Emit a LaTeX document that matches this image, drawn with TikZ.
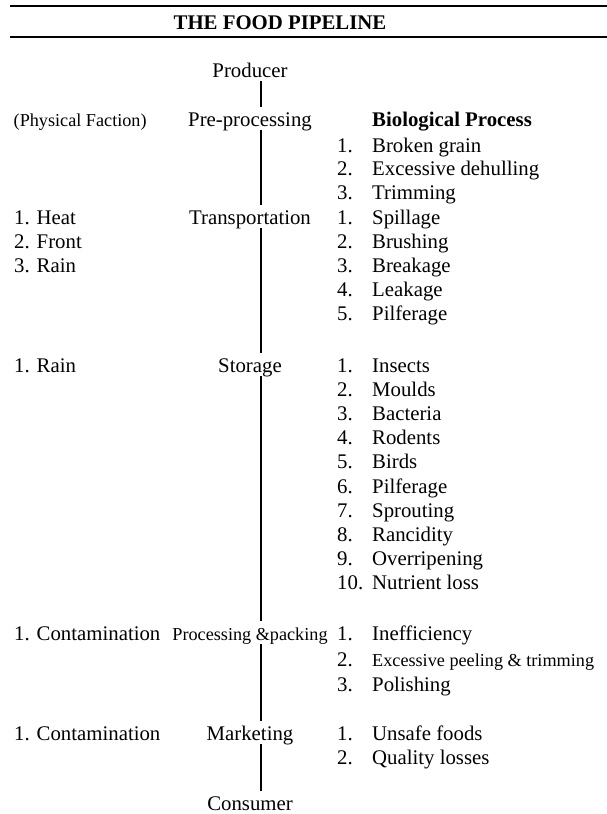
\documentclass[tikz,border=0pt]{standalone}
\usepackage{fontspec}
\setmainfont{Liberation Serif}
\newcommand{\lnum}[2]{\makebox[35pt][l]{#1}#2}
\newcommand{\smallsz}{\fontsize{18.2}{21}\selectfont}

\begin{document}
\begin{tikzpicture}[x=1pt,y=-1pt,font=\fontsize{20.8}{24}\selectfont,
  stage/.style={anchor=base,inner xsep=0pt,inner ysep=4pt,text height=15pt,text depth=0pt},
  cause/.style={anchor=base west,inner sep=0pt},
  loss/.style={anchor=base west,inner sep=0pt},
  rule/.style={line width=1.8pt},
  pipe/.style={line width=1.3pt}]
\useasboundingbox (0,0) rectangle (607,814);
\coordinate (spine) at (261,0);

\draw[rule] (10,6) -- (607,6);
\node[anchor=base,font=\fontsize{20.8}{24}\selectfont\bfseries] (title) at (280,29.5) {THE FOOD PIPELINE};
\draw[rule] (10,37) -- (607,37);

% the stages
\node[stage] (producer) at (250,77) {Producer};
\node[stage] (pre) at (250,126) {Pre-processing};
\node[stage] (transport) at (250,224) {Transportation};
\node[stage] (storage) at (250,372) {Storage};
\node[stage,font=\smallsz] (processing) at (250,640) {Processing \&packing};
\node[stage] (marketing) at (250,740) {Marketing};
\node[stage] (consumer) at (250,810) {Consumer};

\draw[pipe] (producer.south -| spine) -- (pre.north -| spine);
\draw[pipe] (pre.south -| spine) -- (transport.north -| spine);
\draw[pipe] (transport.south -| spine) -- (storage.north -| spine);
\draw[pipe] (storage.south -| spine) -- (processing.north -| spine);
\draw[pipe] (processing.south -| spine) -- (marketing.north -| spine);
\draw[pipe] (marketing.south -| spine) -- (consumer.north -| spine);

% physical side
\node[cause,font=\smallsz] (phys) at (13.5,126) {(Physical Faction)};
\node[cause] (heat) at (14,224) {1. Heat};
\node[cause] (front) at (14,248) {2. Front};
\node[cause] (rain) at (14,272) {3. Rain};
\node[cause] (srain) at (14,372) {1. Rain};
\node[cause] (pcont) at (14,640) {1. Contamination};
\node[cause] (mcont) at (14,740) {1. Contamination};

% biological side
\node[loss,font=\fontsize{20.8}{24}\selectfont\bfseries] (bio) at (372,126) {Biological Process};
\node[loss] (p1) at (337,152) {\lnum{1.}{Broken grain}};
\node[loss] (p2) at (337,175) {\lnum{2.}{Excessive dehulling}};
\node[loss] (p3) at (337,199) {\lnum{3.}{Trimming}};

\node[loss] (t1) at (337,224) {\lnum{1.}{Spillage}};
\node[loss] (t2) at (337,248) {\lnum{2.}{Brushing}};
\node[loss] (t3) at (337,272) {\lnum{3.}{Breakage}};
\node[loss] (t4) at (337,296) {\lnum{4.}{Leakage}};
\node[loss] (t5) at (337,320) {\lnum{5.}{Pilferage}};

\node[loss] (s1) at (337,372) {\lnum{1.}{Insects}};
\node[loss] (s2) at (337,396) {\lnum{2.}{Moulds}};
\node[loss] (s3) at (337,420) {\lnum{3.}{Bacteria}};
\node[loss] (s4) at (337,444) {\lnum{4.}{Rodents}};
\node[loss] (s5) at (337,468) {\lnum{5.}{Birds}};
\node[loss] (s6) at (337,493) {\lnum{6.}{Pilferage}};
\node[loss] (s7) at (337,517) {\lnum{7.}{Sprouting}};
\node[loss] (s8) at (337,541) {\lnum{8.}{Rancidity}};
\node[loss] (s9) at (337,565) {\lnum{9.}{Overripening}};
\node[loss] (s10) at (337,589) {\lnum{10.}{Nutrient loss}};

\node[loss] (k1) at (337,640) {\lnum{1.}{Inefficiency}};
\node[loss] (k2) at (337,666) {\lnum{2.}{\smallsz Excessive peeling \& trimming}};
\node[loss] (k3) at (337,691) {\lnum{3.}{Polishing}};

\node[loss] (m1) at (337,740) {\lnum{1.}{Unsafe foods}};
\node[loss] (m2) at (337,764) {\lnum{2.}{Quality losses}};
\end{tikzpicture}
\end{document}
